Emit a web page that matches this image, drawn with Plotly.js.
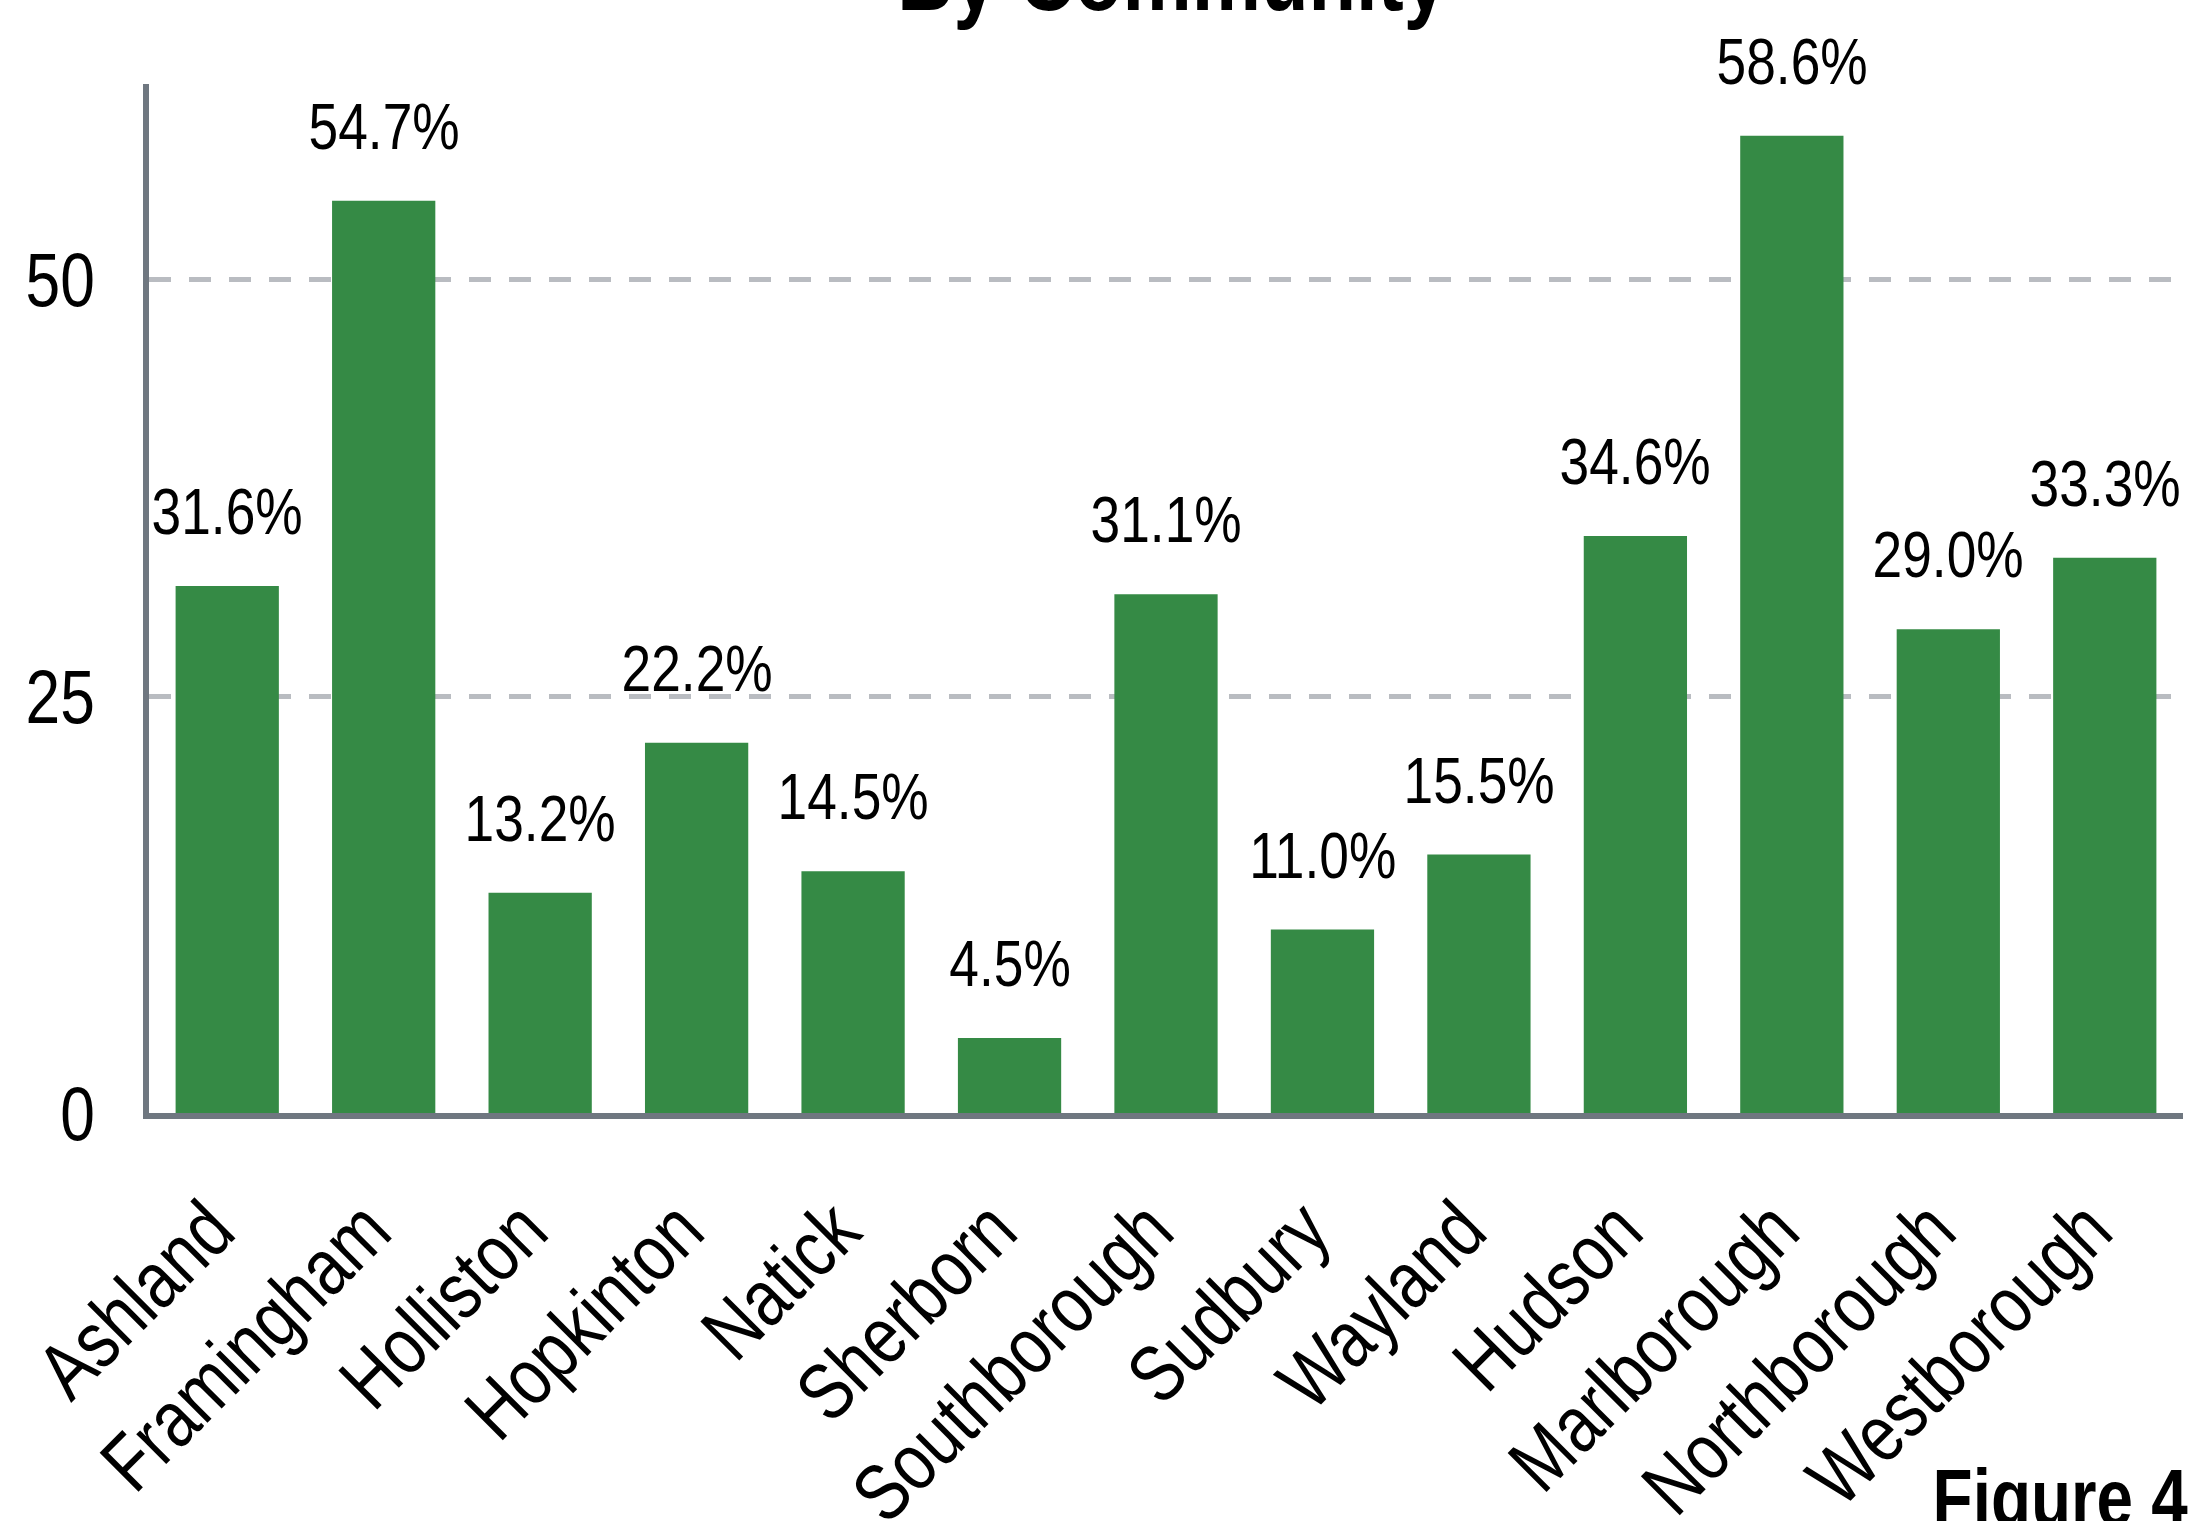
<!DOCTYPE html>
<html>
<head>
<meta charset="utf-8">
<script src="https://cdn.plot.ly/plotly-3.0.1.min.js"></script>
<style>
html,body{margin:0;padding:0;background:#fff;}
#chart{width:2192px;height:1521px;}
</style>
</head>
<body>
<div id="chart"></div>
<script>
const communities = ["Ashland","Framingham","Holliston","Hopkinton","Natick","Sherborn","Southborough","Sudbury","Wayland","Hudson","Marlborough","Northborough","Westborough"];
const percentages = [31.6, 54.7, 13.2, 22.2, 14.5, 4.5, 31.1, 11.0, 15.5, 34.6, 58.6, 29.0, 33.3];
const yTicks = [0, 25, 50];
const titleText = "By Community";
const figureLabel = "Figure 4";

const FONT = "'Liberation Sans', Arial, sans-serif";
const NARROW = 0.82; // horizontal squeeze to imitate a narrow face

const labelAnnotations = communities.map((c, i) => ({
  x: c, y: percentages[i], xref: 'x', yref: 'y',
  text: percentages[i].toFixed(1) + '%',
  showarrow: false, yanchor: 'bottom', xanchor: 'center',
  yshift: 36,
  font: {family: FONT, size: 65, color: '#000'}
}));

const trace = {
  type: 'bar',
  x: communities,
  y: percentages,
  marker: {color: '#358a45'},
  hoverinfo: 'skip'
};

const layout = {
  width: 2192, height: 1521,
  paper_bgcolor: '#fff', plot_bgcolor: '#fff',
  margin: {l: 149, r: 9, t: 84, b: 408, pad: 0, autoexpand: false},
  showlegend: false,
  bargap: 0.34,
  font: {family: FONT, color: '#000'},
  xaxis: {
    type: 'category',
    range: [-0.5, communities.length - 0.5],
    automargin: false,
    showline: true, linecolor: '#6f7780', linewidth: 6,
    showgrid: false, zeroline: false,
    ticks: '', tickangle: -45,
    tickfont: {family: FONT, size: 80, color: '#000'},
    ticklabelstandoff: 32,
    ticklabelshift: -17
  },
  yaxis: {
    range: [0, 61.7],
    automargin: false,
    tickvals: yTicks,
    ticktext: yTicks.map(String),
    showline: true, linecolor: '#6f7780', linewidth: 6,
    showgrid: true, gridcolor: '#b9bcc1', gridwidth: 5, griddash: '22px,18px',
    zeroline: false,
    ticks: '',
    tickfont: {family: FONT, size: 76, color: '#000'},
    ticklabelstandoff: 33
  },
  annotations: labelAnnotations.concat([
    {
      xref: 'paper', yref: 'paper', x: 0.503, y: 1.0505,
      xanchor: 'center', yanchor: 'bottom',
      text: '<b>' + titleText + '</b>', showarrow: false,
      font: {family: FONT, size: 95, color: '#000'}
    },
    {
      xref: 'paper', yref: 'paper', x: 1.0, y: -0.328,
      xanchor: 'right', yanchor: 'top',
      text: '<b>' + figureLabel + '</b>', showarrow: false,
      font: {family: FONT, size: 80, color: '#000'}
    }
  ])
};

function narrowTexts(gd) {
  gd.querySelectorAll('svg text').forEach(t => {
    if (t.getAttribute('data-narrowed')) return;
    const x = parseFloat(t.getAttribute('x')) || 0;
    const y = parseFloat(t.getAttribute('y')) || 0;
    const prev = t.getAttribute('transform') || '';
    t.setAttribute('transform', prev + ` translate(${x},${y}) scale(${NARROW},1) translate(${-x},${-y})`);
    t.setAttribute('data-narrowed', '1');
  });
  // keep the figure label flush with the right edge after narrowing
  const svgBox = gd.querySelector('svg.main-svg').getBoundingClientRect();
  gd.querySelectorAll('svg text').forEach(t => {
    if (t.textContent.trim() === figureLabel) {
      const r = t.getBoundingClientRect();
      const dx = (svgBox.left + 2188) - r.right;
      t.setAttribute('transform', `translate(${dx},0) ` + t.getAttribute('transform'));
    }
  });
}

const gd = document.getElementById('chart');
Plotly.newPlot(gd, [trace], layout, {displayModeBar: false, staticPlot: true}).then(() => narrowTexts(gd));
</script>
</body>
</html>
